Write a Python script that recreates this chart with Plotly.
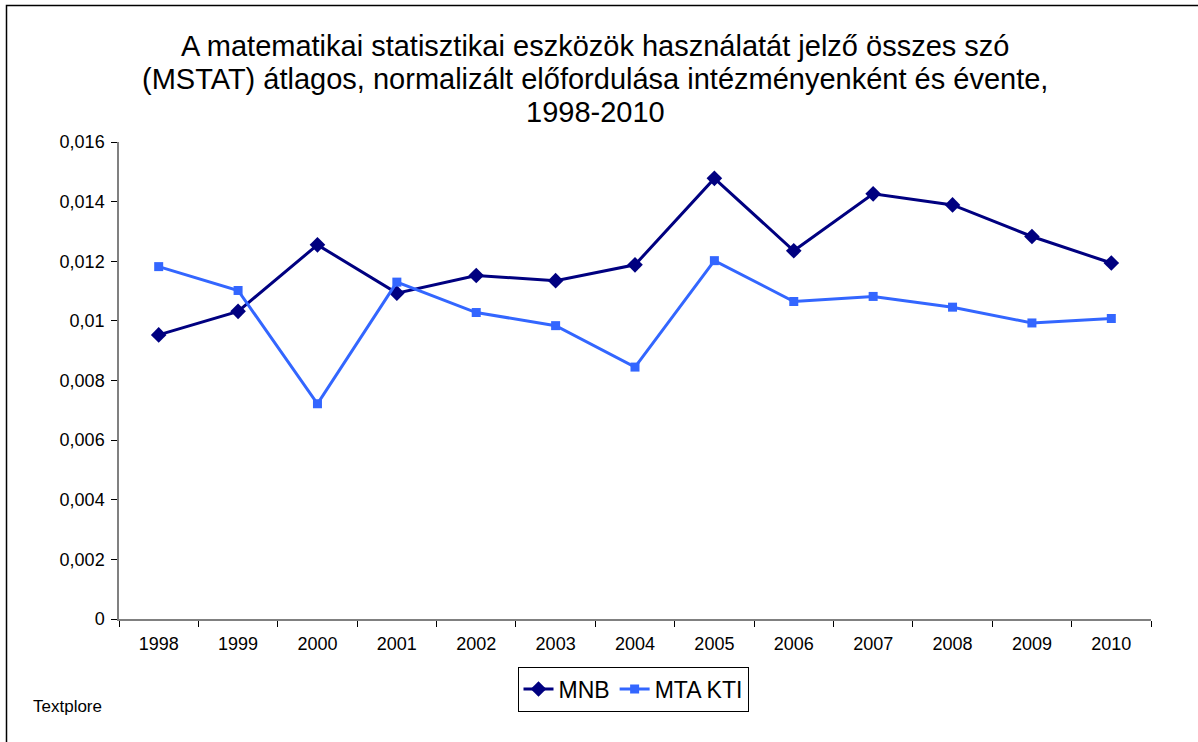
import plotly.graph_objects as go

years = ["1998", "1999", "2000", "2001", "2002", "2003", "2004", "2005", "2006", "2007", "2008", "2009", "2010"]
mnb = [0.00953, 0.01032, 0.01255, 0.01093, 0.01152, 0.01135, 0.01188, 0.01478, 0.01235, 0.01426, 0.01389, 0.01283, 0.01194]
mta_kti = [0.01182, 0.01102, 0.00722, 0.01130, 0.01028, 0.00984, 0.00845, 0.01202, 0.01065, 0.01082, 0.01046, 0.00993, 0.01008]
y_tickvals = [0, 0.002, 0.004, 0.006, 0.008, 0.01, 0.012, 0.014, 0.016]
y_ticktext = ["0", "0,002", "0,004", "0,006", "0,008", "0,01", "0,012", "0,014", "0,016"]
title_lines = [
    "A matematikai statisztikai eszközök használatát jelző összes szó",
    "(MSTAT) átlagos, normalizált előfordulása intézményenként és évente,",
    "1998-2010",
]

W, H = 1198, 742
ml, mr, mt, mb = 119, 47, 142, 123
FONT = "Liberation Sans, Arial, sans-serif"

fig = go.Figure()
fig.add_trace(go.Scatter(
    x=years, y=mnb, name="MNB", mode="lines+markers",
    line=dict(color="#000080", width=3),
    marker=dict(symbol="diamond", size=12, color="#000080"),
))
fig.add_trace(go.Scatter(
    x=years, y=mta_kti, name="MTA KTI", mode="lines+markers",
    line=dict(color="#3366FF", width=3),
    marker=dict(symbol="square", size=9, color="#3366FF"),
))

pw = W - ml - mr
ph = H - mt - mb

def px_x(x):
    return (x - ml) / pw

def px_y(y):
    return (H - mb - y) / ph

annotations = []
for line, yc in zip(title_lines, [46, 79, 112]):
    annotations.append(dict(
        text=line, xref="paper", yref="paper",
        x=px_x(595), y=px_y(yc), xanchor="center", yanchor="middle",
        showarrow=False, font=dict(size=29, family=FONT, color="black"),
    ))
annotations.append(dict(
    text="Textplore", xref="paper", yref="paper",
    x=px_x(31), y=px_y(706), xanchor="left", yanchor="middle",
    showarrow=False, font=dict(size=17, family=FONT, color="black"),
))

fig.update_layout(
    width=W, height=H,
    margin=dict(l=ml, r=mr, t=mt, b=mb, pad=0),
    paper_bgcolor="white", plot_bgcolor="white",
    font=dict(family=FONT, color="black"),
    showlegend=True,
    legend=dict(
        orientation="h", x=px_x(633), xanchor="center",
        y=px_y(689), yanchor="middle",
        bordercolor="black", borderwidth=1,
        font=dict(size=23), itemwidth=30,
        tracegroupgap=0,
    ),
    xaxis=dict(
        type="category", showgrid=False, zeroline=False,
        showline=True, linecolor="#808080", linewidth=1.5,
        ticks="outside", tickson="boundaries", ticklen=6, tickcolor="black",
        tickfont=dict(size=18), range=[-0.5, 12.5],
        ticklabelstandoff=8,
    ),
    yaxis=dict(
        range=[0, 0.016], showgrid=False, zeroline=False,
        showline=True, linecolor="#808080", linewidth=1.5,
        ticks="outside", ticklen=6, tickcolor="black",
        tickvals=y_tickvals, ticktext=y_ticktext,
        tickfont=dict(size=18), ticklabelstandoff=3,
    ),
    annotations=annotations,
    shapes=[dict(
        type="rect", xref="paper", yref="paper",
        x0=px_x(6.5), x1=px_x(1210), y0=px_y(750), y1=px_y(5.5),
        line=dict(color="black", width=1.5), layer="above",
    )],
)

fig.write_html("out.html", config={"displayModeBar": False},
               post_script="document.body.style.margin='0';")
